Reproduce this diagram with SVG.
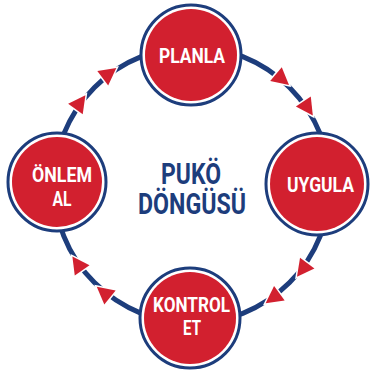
<svg xmlns="http://www.w3.org/2000/svg" xmlns:xlink="http://www.w3.org/1999/xlink" width="370" height="373" viewBox="0 0 370 373">
<style>
.ring{fill:#ffffff;stroke:#1d3d7c;stroke-width:3}
.disc{fill:#d2202f}
.lbl{font-family:Roboto,"Liberation Sans",sans-serif;font-weight:700;font-size:21px;fill:#ffffff;text-anchor:middle}
.title{font-family:Roboto,"Liberation Sans",sans-serif;font-weight:700;font-size:30px;fill:#1d3d7c;text-anchor:middle}
.arc{fill:none;stroke:#1d3d7c;stroke-width:5}
.arr{fill:#d2202f;stroke:#ffffff;stroke-width:3;paint-order:stroke;stroke-linejoin:miter}
</style>
<defs>
<polygon id="arrow" class="arr" points="0,10 -9,-7 9,-7"/>
</defs>
<rect width="370" height="373" fill="#ffffff"/>
<g id="connectors">
<circle class="arc" cx="192" cy="185" r="138"/>
<use xlink:href="#arrow" transform="translate(192 185) rotate(216) translate(139 0)"/>
<use xlink:href="#arrow" transform="translate(192 185) rotate(233) translate(139 0)"/>
<use xlink:href="#arrow" transform="translate(192 185) rotate(310) translate(139 0)"/>
<use xlink:href="#arrow" transform="translate(192 185) rotate(326) translate(139 0)"/>
<use xlink:href="#arrow" transform="translate(192 185) rotate(37) translate(139 0)"/>
<use xlink:href="#arrow" transform="translate(192 185) rotate(54) translate(139 0)"/>
<use xlink:href="#arrow" transform="translate(192 185) rotate(129) translate(139 0)"/>
<use xlink:href="#arrow" transform="translate(192 185) rotate(145) translate(139 0)"/>
</g>
<g id="planla">
<circle class="ring" cx="191" cy="55" r="50"/>
<circle class="disc" cx="191" cy="55" r="46"/>
<text class="lbl" x="192" y="63" textLength="66" lengthAdjust="spacingAndGlyphs">PLANLA</text>
</g>
<g id="uygula">
<circle class="ring" cx="317" cy="184" r="51"/>
<circle class="disc" cx="317" cy="184" r="47"/>
<text class="lbl" x="320.5" y="191.5" textLength="67" lengthAdjust="spacingAndGlyphs">UYGULA</text>
</g>
<g id="kontrol-et">
<circle class="ring" cx="190" cy="318" r="50"/>
<circle class="disc" cx="190" cy="318" r="46"/>
<text class="lbl" x="191.5" y="311.5" textLength="77" lengthAdjust="spacingAndGlyphs">KONTROL</text>
<text class="lbl" x="192" y="335" textLength="18" lengthAdjust="spacingAndGlyphs">ET</text>
</g>
<g id="onlem-al">
<circle class="ring" cx="57" cy="182" r="49"/>
<circle class="disc" cx="57" cy="182" r="45"/>
<text class="lbl" x="62" y="182" textLength="60" lengthAdjust="spacingAndGlyphs">ÖNLEM</text>
<text class="lbl" x="62" y="206" textLength="19" lengthAdjust="spacingAndGlyphs">AL</text>
</g>
<g id="title">
<text class="title" x="191" y="184" textLength="60" lengthAdjust="spacingAndGlyphs">PUKÖ</text>
<text class="title" x="192" y="214" textLength="108" lengthAdjust="spacingAndGlyphs">DÖNGÜSÜ</text>
</g>
</svg>
